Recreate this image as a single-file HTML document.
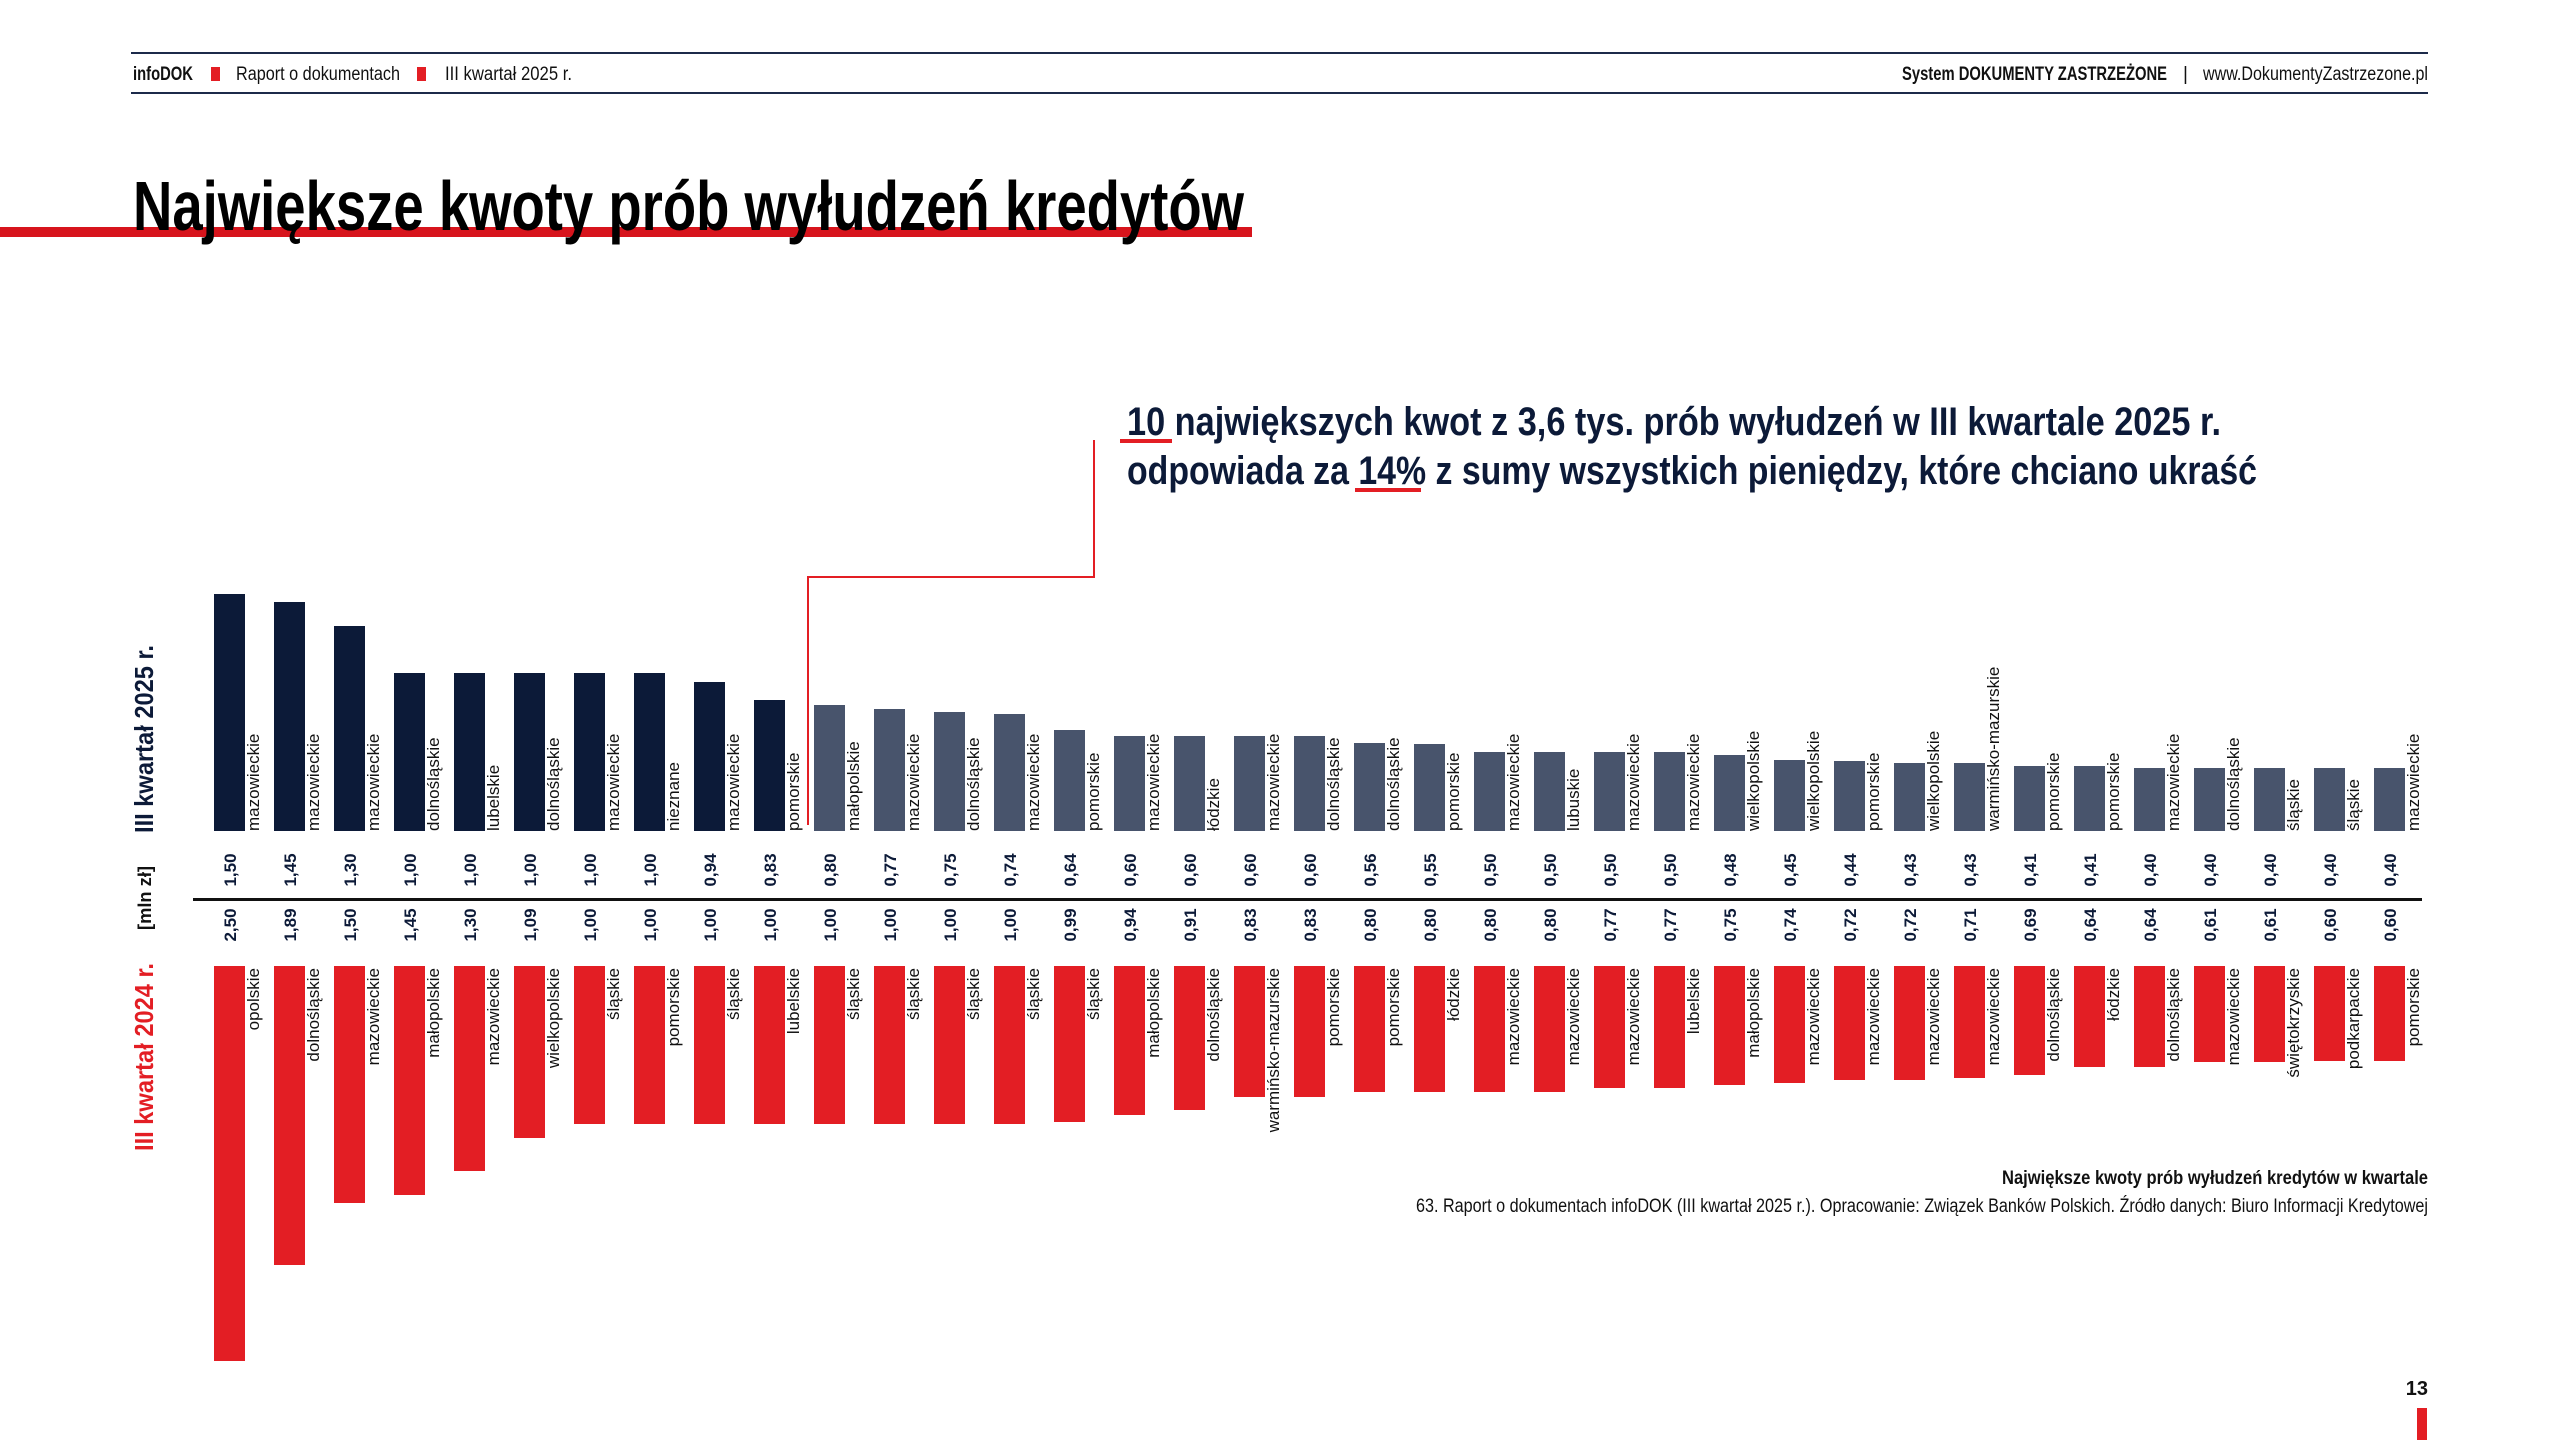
<!DOCTYPE html>
<html><head><meta charset="utf-8"><style>
html,body{margin:0;padding:0;background:#fff;}
svg{display:block;}
text{font-family:"Liberation Sans",sans-serif;}
.lb{font-size:17px;fill:#111;}
.v{font-size:17px;font-weight:bold;fill:#0c1a38;text-anchor:middle;}
.n{fill:#0c1a38;} .g{fill:#48546c;} .r{fill:#e31e24;}
</style></head><body>
<svg width="2560" height="1440" viewBox="0 0 2560 1440" xmlns="http://www.w3.org/2000/svg">
<!-- header -->
<rect x="131" y="52" width="2297" height="2" fill="#1c2a4a"/>
<rect x="131" y="92" width="2297" height="2" fill="#1c2a4a"/>
<text x="133" y="80" font-size="19" font-weight="bold" fill="#111" textLength="60" lengthAdjust="spacingAndGlyphs">infoDOK</text>
<rect x="211" y="67" width="9" height="14" fill="#e31e24"/>
<text x="236" y="80" font-size="19" fill="#111" textLength="164" lengthAdjust="spacingAndGlyphs">Raport o dokumentach</text>
<rect x="417" y="67" width="9" height="14" fill="#e31e24"/>
<text x="445" y="80" font-size="19" fill="#111" textLength="127" lengthAdjust="spacingAndGlyphs">III kwartał 2025 r.</text>
<text x="1902" y="80" font-size="19" font-weight="bold" fill="#111" textLength="265" lengthAdjust="spacingAndGlyphs">System DOKUMENTY ZASTRZEŻONE</text>
<text x="2183" y="80" font-size="19" fill="#111">|</text>
<text x="2203" y="80" font-size="19" fill="#111" textLength="225" lengthAdjust="spacingAndGlyphs">www.DokumentyZastrzezone.pl</text>
<!-- title -->
<rect x="0" y="227" width="1252" height="10" fill="#d7141c"/>
<text x="133" y="230" font-size="70" font-weight="bold" fill="#000" textLength="1111" lengthAdjust="spacingAndGlyphs">Największe kwoty prób wyłudzeń kredytów</text>
<!-- annotation -->
<text x="1127" y="435" font-size="40" font-weight="bold" fill="#0c1a38" textLength="1094" lengthAdjust="spacingAndGlyphs">10 największych kwot z 3,6 tys. prób wyłudzeń w III kwartale 2025 r.</text>
<text x="1127" y="484" font-size="40" font-weight="bold" fill="#0c1a38" textLength="1130" lengthAdjust="spacingAndGlyphs">odpowiada za 14% z sumy wszystkich pieniędzy, które chciano ukraść</text>
<rect x="1120" y="439" width="52" height="4" fill="#e31e24"/>
<rect x="1355" y="488" width="66" height="4" fill="#e31e24"/>
<polyline points="1094,440 1094,577 808,577 808,825" fill="none" stroke="#e31e24" stroke-width="2"/>
<!-- side labels -->
<text transform="translate(153,739) rotate(-90)" font-size="26" font-weight="bold" fill="#0c1a38" text-anchor="middle" textLength="188" lengthAdjust="spacingAndGlyphs">III kwartał 2025 r.</text>
<text transform="translate(151,898) rotate(-90)" font-size="18" font-weight="bold" fill="#111" text-anchor="middle" textLength="64" lengthAdjust="spacingAndGlyphs">[mln zł]</text>
<text transform="translate(153,1057) rotate(-90)" font-size="26" font-weight="bold" fill="#e31e24" text-anchor="middle" textLength="188" lengthAdjust="spacingAndGlyphs">III kwartał 2024 r.</text>
<rect x="193" y="898" width="2229" height="3" fill="#111"/>
<!-- 2025 bars -->
<g class="n">
<rect x="214" y="594" width="31" height="237"/>
<rect x="274" y="602" width="31" height="229"/>
<rect x="334" y="626" width="31" height="205"/>
<rect x="394" y="673" width="31" height="158"/>
<rect x="454" y="673" width="31" height="158"/>
<rect x="514" y="673" width="31" height="158"/>
<rect x="574" y="673" width="31" height="158"/>
<rect x="634" y="673" width="31" height="158"/>
<rect x="694" y="682" width="31" height="149"/>
<rect x="754" y="700" width="31" height="131"/>
</g>
<g class="g">
<rect x="814" y="705" width="31" height="126"/>
<rect x="874" y="709" width="31" height="122"/>
<rect x="934" y="712" width="31" height="119"/>
<rect x="994" y="714" width="31" height="117"/>
<rect x="1054" y="730" width="31" height="101"/>
<rect x="1114" y="736" width="31" height="95"/>
<rect x="1174" y="736" width="31" height="95"/>
<rect x="1234" y="736" width="31" height="95"/>
<rect x="1294" y="736" width="31" height="95"/>
<rect x="1354" y="743" width="31" height="88"/>
<rect x="1414" y="744" width="31" height="87"/>
<rect x="1474" y="752" width="31" height="79"/>
<rect x="1534" y="752" width="31" height="79"/>
<rect x="1594" y="752" width="31" height="79"/>
<rect x="1654" y="752" width="31" height="79"/>
<rect x="1714" y="755" width="31" height="76"/>
<rect x="1774" y="760" width="31" height="71"/>
<rect x="1834" y="761" width="31" height="70"/>
<rect x="1894" y="763" width="31" height="68"/>
<rect x="1954" y="763" width="31" height="68"/>
<rect x="2014" y="766" width="31" height="65"/>
<rect x="2074" y="766" width="31" height="65"/>
<rect x="2134" y="768" width="31" height="63"/>
<rect x="2194" y="768" width="31" height="63"/>
<rect x="2254" y="768" width="31" height="63"/>
<rect x="2314" y="768" width="31" height="63"/>
<rect x="2374" y="768" width="31" height="63"/>
</g>
<g class="lb">
<text transform="translate(259,831) rotate(-90)">mazowieckie</text>
<text transform="translate(319,831) rotate(-90)">mazowieckie</text>
<text transform="translate(379,831) rotate(-90)">mazowieckie</text>
<text transform="translate(439,831) rotate(-90)">dolnośląskie</text>
<text transform="translate(499,831) rotate(-90)">lubelskie</text>
<text transform="translate(559,831) rotate(-90)">dolnośląskie</text>
<text transform="translate(619,831) rotate(-90)">mazowieckie</text>
<text transform="translate(679,831) rotate(-90)">nieznane</text>
<text transform="translate(739,831) rotate(-90)">mazowieckie</text>
<text transform="translate(799,831) rotate(-90)">pomorskie</text>
<text transform="translate(859,831) rotate(-90)">małopolskie</text>
<text transform="translate(919,831) rotate(-90)">mazowieckie</text>
<text transform="translate(979,831) rotate(-90)">dolnośląskie</text>
<text transform="translate(1039,831) rotate(-90)">mazowieckie</text>
<text transform="translate(1099,831) rotate(-90)">pomorskie</text>
<text transform="translate(1159,831) rotate(-90)">mazowieckie</text>
<text transform="translate(1219,831) rotate(-90)">łódzkie</text>
<text transform="translate(1279,831) rotate(-90)">mazowieckie</text>
<text transform="translate(1339,831) rotate(-90)">dolnośląskie</text>
<text transform="translate(1399,831) rotate(-90)">dolnośląskie</text>
<text transform="translate(1459,831) rotate(-90)">pomorskie</text>
<text transform="translate(1519,831) rotate(-90)">mazowieckie</text>
<text transform="translate(1579,831) rotate(-90)">lubuskie</text>
<text transform="translate(1639,831) rotate(-90)">mazowieckie</text>
<text transform="translate(1699,831) rotate(-90)">mazowieckie</text>
<text transform="translate(1759,831) rotate(-90)">wielkopolskie</text>
<text transform="translate(1819,831) rotate(-90)">wielkopolskie</text>
<text transform="translate(1879,831) rotate(-90)">pomorskie</text>
<text transform="translate(1939,831) rotate(-90)">wielkopolskie</text>
<text transform="translate(1999,831) rotate(-90)">warmińsko-mazurskie</text>
<text transform="translate(2059,831) rotate(-90)">pomorskie</text>
<text transform="translate(2119,831) rotate(-90)">pomorskie</text>
<text transform="translate(2179,831) rotate(-90)">mazowieckie</text>
<text transform="translate(2239,831) rotate(-90)">dolnośląskie</text>
<text transform="translate(2299,831) rotate(-90)">śląskie</text>
<text transform="translate(2359,831) rotate(-90)">śląskie</text>
<text transform="translate(2419,831) rotate(-90)">mazowieckie</text>
</g>
<!-- 2025 values -->
<g class="v">
<text transform="translate(236,870) rotate(-90)">1,50</text>
<text transform="translate(296,870) rotate(-90)">1,45</text>
<text transform="translate(356,870) rotate(-90)">1,30</text>
<text transform="translate(416,870) rotate(-90)">1,00</text>
<text transform="translate(476,870) rotate(-90)">1,00</text>
<text transform="translate(536,870) rotate(-90)">1,00</text>
<text transform="translate(596,870) rotate(-90)">1,00</text>
<text transform="translate(656,870) rotate(-90)">1,00</text>
<text transform="translate(716,870) rotate(-90)">0,94</text>
<text transform="translate(776,870) rotate(-90)">0,83</text>
<text transform="translate(836,870) rotate(-90)">0,80</text>
<text transform="translate(896,870) rotate(-90)">0,77</text>
<text transform="translate(956,870) rotate(-90)">0,75</text>
<text transform="translate(1016,870) rotate(-90)">0,74</text>
<text transform="translate(1076,870) rotate(-90)">0,64</text>
<text transform="translate(1136,870) rotate(-90)">0,60</text>
<text transform="translate(1196,870) rotate(-90)">0,60</text>
<text transform="translate(1256,870) rotate(-90)">0,60</text>
<text transform="translate(1316,870) rotate(-90)">0,60</text>
<text transform="translate(1376,870) rotate(-90)">0,56</text>
<text transform="translate(1436,870) rotate(-90)">0,55</text>
<text transform="translate(1496,870) rotate(-90)">0,50</text>
<text transform="translate(1556,870) rotate(-90)">0,50</text>
<text transform="translate(1616,870) rotate(-90)">0,50</text>
<text transform="translate(1676,870) rotate(-90)">0,50</text>
<text transform="translate(1736,870) rotate(-90)">0,48</text>
<text transform="translate(1796,870) rotate(-90)">0,45</text>
<text transform="translate(1856,870) rotate(-90)">0,44</text>
<text transform="translate(1916,870) rotate(-90)">0,43</text>
<text transform="translate(1976,870) rotate(-90)">0,43</text>
<text transform="translate(2036,870) rotate(-90)">0,41</text>
<text transform="translate(2096,870) rotate(-90)">0,41</text>
<text transform="translate(2156,870) rotate(-90)">0,40</text>
<text transform="translate(2216,870) rotate(-90)">0,40</text>
<text transform="translate(2276,870) rotate(-90)">0,40</text>
<text transform="translate(2336,870) rotate(-90)">0,40</text>
<text transform="translate(2396,870) rotate(-90)">0,40</text>
</g>
<!-- 2024 values -->
<g class="v">
<text transform="translate(236,925) rotate(-90)">2,50</text>
<text transform="translate(296,925) rotate(-90)">1,89</text>
<text transform="translate(356,925) rotate(-90)">1,50</text>
<text transform="translate(416,925) rotate(-90)">1,45</text>
<text transform="translate(476,925) rotate(-90)">1,30</text>
<text transform="translate(536,925) rotate(-90)">1,09</text>
<text transform="translate(596,925) rotate(-90)">1,00</text>
<text transform="translate(656,925) rotate(-90)">1,00</text>
<text transform="translate(716,925) rotate(-90)">1,00</text>
<text transform="translate(776,925) rotate(-90)">1,00</text>
<text transform="translate(836,925) rotate(-90)">1,00</text>
<text transform="translate(896,925) rotate(-90)">1,00</text>
<text transform="translate(956,925) rotate(-90)">1,00</text>
<text transform="translate(1016,925) rotate(-90)">1,00</text>
<text transform="translate(1076,925) rotate(-90)">0,99</text>
<text transform="translate(1136,925) rotate(-90)">0,94</text>
<text transform="translate(1196,925) rotate(-90)">0,91</text>
<text transform="translate(1256,925) rotate(-90)">0,83</text>
<text transform="translate(1316,925) rotate(-90)">0,83</text>
<text transform="translate(1376,925) rotate(-90)">0,80</text>
<text transform="translate(1436,925) rotate(-90)">0,80</text>
<text transform="translate(1496,925) rotate(-90)">0,80</text>
<text transform="translate(1556,925) rotate(-90)">0,80</text>
<text transform="translate(1616,925) rotate(-90)">0,77</text>
<text transform="translate(1676,925) rotate(-90)">0,77</text>
<text transform="translate(1736,925) rotate(-90)">0,75</text>
<text transform="translate(1796,925) rotate(-90)">0,74</text>
<text transform="translate(1856,925) rotate(-90)">0,72</text>
<text transform="translate(1916,925) rotate(-90)">0,72</text>
<text transform="translate(1976,925) rotate(-90)">0,71</text>
<text transform="translate(2036,925) rotate(-90)">0,69</text>
<text transform="translate(2096,925) rotate(-90)">0,64</text>
<text transform="translate(2156,925) rotate(-90)">0,64</text>
<text transform="translate(2216,925) rotate(-90)">0,61</text>
<text transform="translate(2276,925) rotate(-90)">0,61</text>
<text transform="translate(2336,925) rotate(-90)">0,60</text>
<text transform="translate(2396,925) rotate(-90)">0,60</text>
</g>
<!-- 2024 bars -->
<g class="r">
<rect x="214" y="966" width="31" height="395"/>
<rect x="274" y="966" width="31" height="299"/>
<rect x="334" y="966" width="31" height="237"/>
<rect x="394" y="966" width="31" height="229"/>
<rect x="454" y="966" width="31" height="205"/>
<rect x="514" y="966" width="31" height="172"/>
<rect x="574" y="966" width="31" height="158"/>
<rect x="634" y="966" width="31" height="158"/>
<rect x="694" y="966" width="31" height="158"/>
<rect x="754" y="966" width="31" height="158"/>
<rect x="814" y="966" width="31" height="158"/>
<rect x="874" y="966" width="31" height="158"/>
<rect x="934" y="966" width="31" height="158"/>
<rect x="994" y="966" width="31" height="158"/>
<rect x="1054" y="966" width="31" height="156"/>
<rect x="1114" y="966" width="31" height="149"/>
<rect x="1174" y="966" width="31" height="144"/>
<rect x="1234" y="966" width="31" height="131"/>
<rect x="1294" y="966" width="31" height="131"/>
<rect x="1354" y="966" width="31" height="126"/>
<rect x="1414" y="966" width="31" height="126"/>
<rect x="1474" y="966" width="31" height="126"/>
<rect x="1534" y="966" width="31" height="126"/>
<rect x="1594" y="966" width="31" height="122"/>
<rect x="1654" y="966" width="31" height="122"/>
<rect x="1714" y="966" width="31" height="119"/>
<rect x="1774" y="966" width="31" height="117"/>
<rect x="1834" y="966" width="31" height="114"/>
<rect x="1894" y="966" width="31" height="114"/>
<rect x="1954" y="966" width="31" height="112"/>
<rect x="2014" y="966" width="31" height="109"/>
<rect x="2074" y="966" width="31" height="101"/>
<rect x="2134" y="966" width="31" height="101"/>
<rect x="2194" y="966" width="31" height="96"/>
<rect x="2254" y="966" width="31" height="96"/>
<rect x="2314" y="966" width="31" height="95"/>
<rect x="2374" y="966" width="31" height="95"/>
</g>
<g class="lb" text-anchor="end">
<text transform="translate(259,968) rotate(-90)">opolskie</text>
<text transform="translate(319,968) rotate(-90)">dolnośląskie</text>
<text transform="translate(379,968) rotate(-90)">mazowieckie</text>
<text transform="translate(439,968) rotate(-90)">małopolskie</text>
<text transform="translate(499,968) rotate(-90)">mazowieckie</text>
<text transform="translate(559,968) rotate(-90)">wielkopolskie</text>
<text transform="translate(619,968) rotate(-90)">śląskie</text>
<text transform="translate(679,968) rotate(-90)">pomorskie</text>
<text transform="translate(739,968) rotate(-90)">śląskie</text>
<text transform="translate(799,968) rotate(-90)">lubelskie</text>
<text transform="translate(859,968) rotate(-90)">śląskie</text>
<text transform="translate(919,968) rotate(-90)">śląskie</text>
<text transform="translate(979,968) rotate(-90)">śląskie</text>
<text transform="translate(1039,968) rotate(-90)">śląskie</text>
<text transform="translate(1099,968) rotate(-90)">śląskie</text>
<text transform="translate(1159,968) rotate(-90)">małopolskie</text>
<text transform="translate(1219,968) rotate(-90)">dolnośląskie</text>
<text transform="translate(1279,968) rotate(-90)">warmińsko-mazurskie</text>
<text transform="translate(1339,968) rotate(-90)">pomorskie</text>
<text transform="translate(1399,968) rotate(-90)">pomorskie</text>
<text transform="translate(1459,968) rotate(-90)">łódzkie</text>
<text transform="translate(1519,968) rotate(-90)">mazowieckie</text>
<text transform="translate(1579,968) rotate(-90)">mazowieckie</text>
<text transform="translate(1639,968) rotate(-90)">mazowieckie</text>
<text transform="translate(1699,968) rotate(-90)">lubelskie</text>
<text transform="translate(1759,968) rotate(-90)">małopolskie</text>
<text transform="translate(1819,968) rotate(-90)">mazowieckie</text>
<text transform="translate(1879,968) rotate(-90)">mazowieckie</text>
<text transform="translate(1939,968) rotate(-90)">mazowieckie</text>
<text transform="translate(1999,968) rotate(-90)">mazowieckie</text>
<text transform="translate(2059,968) rotate(-90)">dolnośląskie</text>
<text transform="translate(2119,968) rotate(-90)">łódzkie</text>
<text transform="translate(2179,968) rotate(-90)">dolnośląskie</text>
<text transform="translate(2239,968) rotate(-90)">mazowieckie</text>
<text transform="translate(2299,968) rotate(-90)">świętokrzyskie</text>
<text transform="translate(2359,968) rotate(-90)">podkarpackie</text>
<text transform="translate(2419,968) rotate(-90)">pomorskie</text>
</g>
<!-- footer -->
<text x="2428" y="1184" font-size="19" font-weight="bold" fill="#111" text-anchor="end" textLength="426" lengthAdjust="spacingAndGlyphs">Największe kwoty prób wyłudzeń kredytów w kwartale</text>
<text x="2428" y="1212" font-size="19" fill="#111" text-anchor="end" textLength="1012" lengthAdjust="spacingAndGlyphs">63. Raport o dokumentach infoDOK (III kwartał 2025 r.). Opracowanie: Związek Banków Polskich. Źródło danych: Biuro Informacji Kredytowej</text>
<text x="2428" y="1395" font-size="20" font-weight="bold" fill="#111" text-anchor="end">13</text>
<rect x="2417" y="1408" width="10" height="32" fill="#e31e24"/>
</svg>
</body></html>
